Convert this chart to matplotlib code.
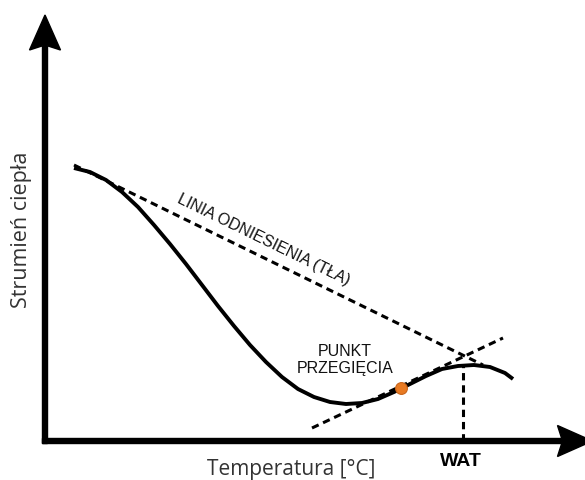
import numpy as np
import matplotlib
matplotlib.use("Agg")
import matplotlib.pyplot as plt

# DSC-like curve (arbitrary units)
temp = [29, 45, 61, 77, 93, 109, 125, 141, 157, 173, 189, 205, 221, 237, 253,
        269, 285, 301, 317, 333, 349, 365, 381, 397, 413, 429, 445, 460, 468]
flow = [273, 269, 261, 249, 234, 216, 197, 177, 156, 135, 115, 96, 79, 64, 52,
        44, 39, 37, 38, 42, 49, 57, 65, 72, 75, 76, 74, 68, 62]

baseline_x = [29, 438]
baseline_y = [276, 76]
tangent_x = [267, 458]
tangent_y = [13, 103]
inflection = (356, 53)
wat_x = 418
wat_top = 76

fig = plt.figure(figsize=(5.85, 4.8), dpi=100)
ax = fig.add_axes([0, 0, 1, 1])
ax.set_xlim(-45, 540)
ax.set_ylim(-39, 441)
ax.axis("off")

# axes with arrow heads
ax.arrow(0, -2.5, 0, 428.5, width=5, head_width=31, head_length=35,
         length_includes_head=True, overhang=0.12, color="black")
ax.arrow(-2.5, 0, 550, 0, width=5, head_width=31, head_length=35,
         length_includes_head=True, overhang=0.12, color="black", clip_on=False)

dash = (0, (2.4, 1.6))
ax.plot(baseline_x, baseline_y, color="black", lw=2.2, linestyle=dash)
ax.plot(tangent_x, tangent_y, color="black", lw=2.2, linestyle=dash)
ax.plot([wat_x, wat_x], [0, wat_top], color="black", lw=2.2, linestyle=dash)

ax.plot(temp, flow, color="black", lw=2.8, solid_capstyle="butt",
        solid_joinstyle="round")
ax.plot(*inflection, "o", ms=8.5, color="#e87a22", mec="#c8641a", mew=0.8)

ax.text(219, 201, "LINIA ODNIESIENIA (TŁA)", rotation=-26, fontsize=11.5,
        family="Liberation Sans", color="#111111", ha="center", va="center",
        rotation_mode="anchor")
ax.text(300, 90, "PUNKT", fontsize=11.5, family="Liberation Sans",
        color="#111111", ha="center", va="center")
ax.text(300, 73, "PRZEGIĘCIA", fontsize=11.5, family="Liberation Sans",
        color="#111111", ha="center", va="center")
ax.text(415.5, -20, "WAT", fontsize=14, fontweight="bold",
        family="Liberation Sans", ha="center", va="center")

ax.text(246, -29, "Temperatura [°C]", fontsize=15, family="Open Sans",
        color="#333333", ha="center", va="center")
ax.text(-23, 211, "Strumień ciepła", fontsize=15.5, family="Open Sans",
        color="#333333", ha="center", va="center", rotation=90)

fig.savefig("out.png", dpi=100)
